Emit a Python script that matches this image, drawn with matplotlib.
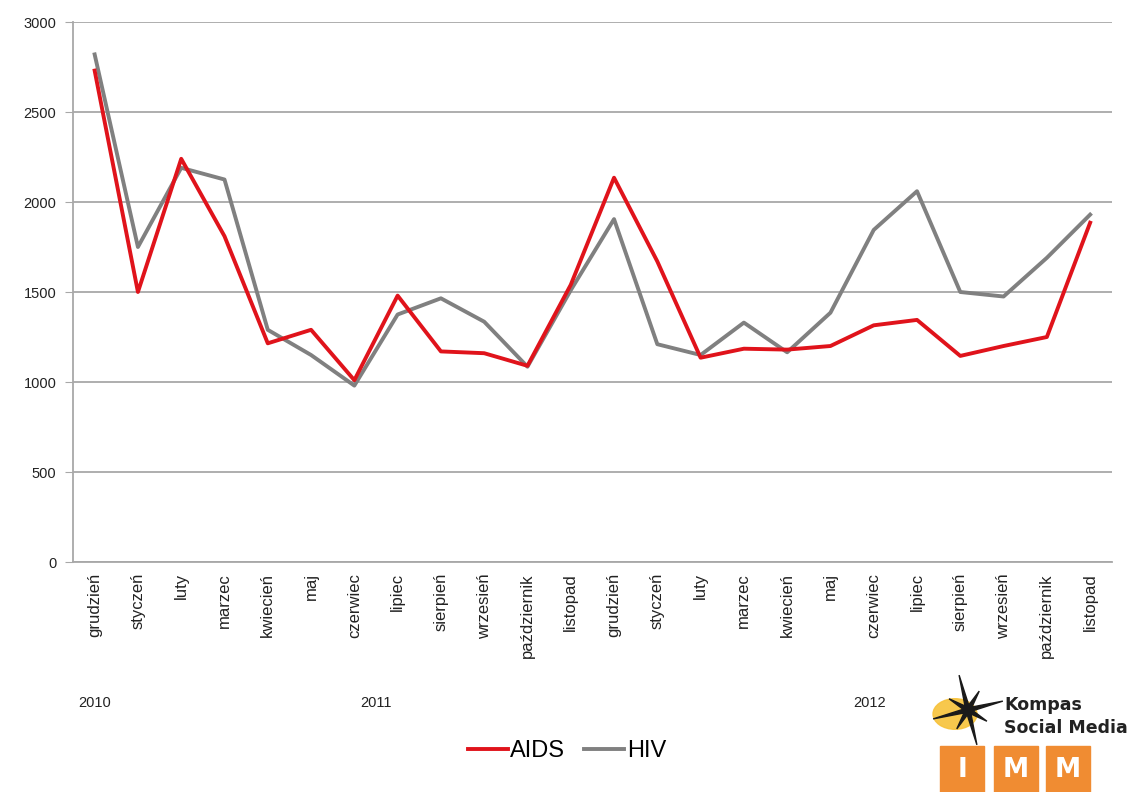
import numpy as np
import matplotlib.pyplot as plt
from matplotlib.patches import Rectangle, Polygon, Circle

months = ["grudzień", "styczeń", "luty", "marzec", "kwiecień", "maj", "czerwiec",
          "lipiec", "sierpień", "wrzesień", "październik", "listopad",
          "grudzień", "styczeń", "luty", "marzec", "kwiecień", "maj", "czerwiec",
          "lipiec", "sierpień", "wrzesień", "październik", "listopad"]
aids = [2730, 1500, 2240, 1810, 1215, 1290, 1010, 1480, 1170, 1160, 1090, 1540,
        2135, 1670, 1135, 1185, 1180, 1200, 1315, 1345, 1145, 1200, 1250, 1885]
hiv = [2820, 1750, 2190, 2125, 1290, 1150, 980, 1375, 1465, 1335, 1085, 1510,
       1905, 1210, 1150, 1330, 1165, 1385, 1845, 2060, 1500, 1475, 1690, 1930]
years = ["2010", "2011", "2012"]
year_pos = [0, 6.5, 17.9]

plt.rcParams['font.family'] = ['Liberation Sans', 'DejaVu Sans']

fig = plt.figure(figsize=(11.39, 7.92), dpi=100)
ax = fig.add_axes([0.0641, 0.2904, 0.9120, 0.6818])

x = np.arange(len(months))
ax.plot(x, aids, color="#e0131b", lw=2.8, label="AIDS", zorder=3)
ax.plot(x, hiv, color="#808080", lw=2.8, label="HIV", zorder=2)

ax.set_xlim(-0.5, len(months) - 0.5)
ax.set_ylim(0, 3000)
ax.set_yticks(np.arange(0, 3001, 500))
ax.yaxis.grid(True, color="#a8a8a8", lw=1.3)
ax.set_axisbelow(True)
ax.set_xticks(x)
ax.set_xticklabels(months, rotation=90, fontsize=12, color="#222222")
ax.tick_params(axis='x', length=0, pad=8)
ax.tick_params(axis='y', length=6, color="#a8a8a8", labelsize=10.5, labelcolor="#222222", pad=6)
for s in ["top", "right"]:
   ax.spines[s].set_visible(False)
ax.spines["left"].set_color("#a8a8a8")
ax.spines["bottom"].set_color("#a8a8a8")
ax.spines["left"].set_linewidth(1.3)
ax.spines["bottom"].set_linewidth(1.3)

for yr, pos in zip(years, year_pos):
   ax.text(pos, -0.262, yr, transform=ax.get_xaxis_transform(), ha="center", va="center",
           fontsize=10.5, color="#222222")

fig.legend(loc="center", bbox_to_anchor=(567 / 1139, 1 - 751 / 792), ncol=2, frameon=False,
           fontsize=17, handlelength=1.7, handletextpad=0.1, columnspacing=0.8)

# logo
W, H = 1139, 792
def fx(px):
   return px / W
def fy(py):
   return 1 - py / H

fig.patches.append(Circle((fx(955), fy(714)), 22 / W, transform=fig.transFigure,
                          color="#f7c23a", alpha=0.9, zorder=1))
pts = []
for i in range(16):
   ang = np.pi / 2 + i * np.pi / 8 + 0.25
   r = 36 if i % 4 == 0 else (22 if i % 2 == 0 else 5)
   pts.append((fx(968 + r * np.cos(ang)), fy(710 - r * np.sin(ang))))
fig.patches.append(Polygon(pts, closed=True, transform=fig.transFigure, color="#1a1a1a", zorder=2))
fig.text(fx(1004), fy(705), "Kompas", fontsize=12.5, fontweight="bold", color="#222222",
         ha="left", va="center", family="DejaVu Sans")
fig.text(fx(1004), fy(728), "Social Media", fontsize=12.5, fontweight="bold", color="#222222",
         ha="left", va="center", family="DejaVu Sans")
for left, letter in zip([940, 994, 1046], ["I", "M", "M"]):
   fig.patches.append(Rectangle((fx(left), fy(792)), 44 / W, 46 / H, transform=fig.transFigure,
                                color="#f08c32", zorder=1))
   fig.text(fx(left + 22), fy(770), letter, fontsize=19, fontweight="bold", color="white",
            ha="center", va="center", family="DejaVu Sans")

plt.savefig("out.png", dpi=100)
